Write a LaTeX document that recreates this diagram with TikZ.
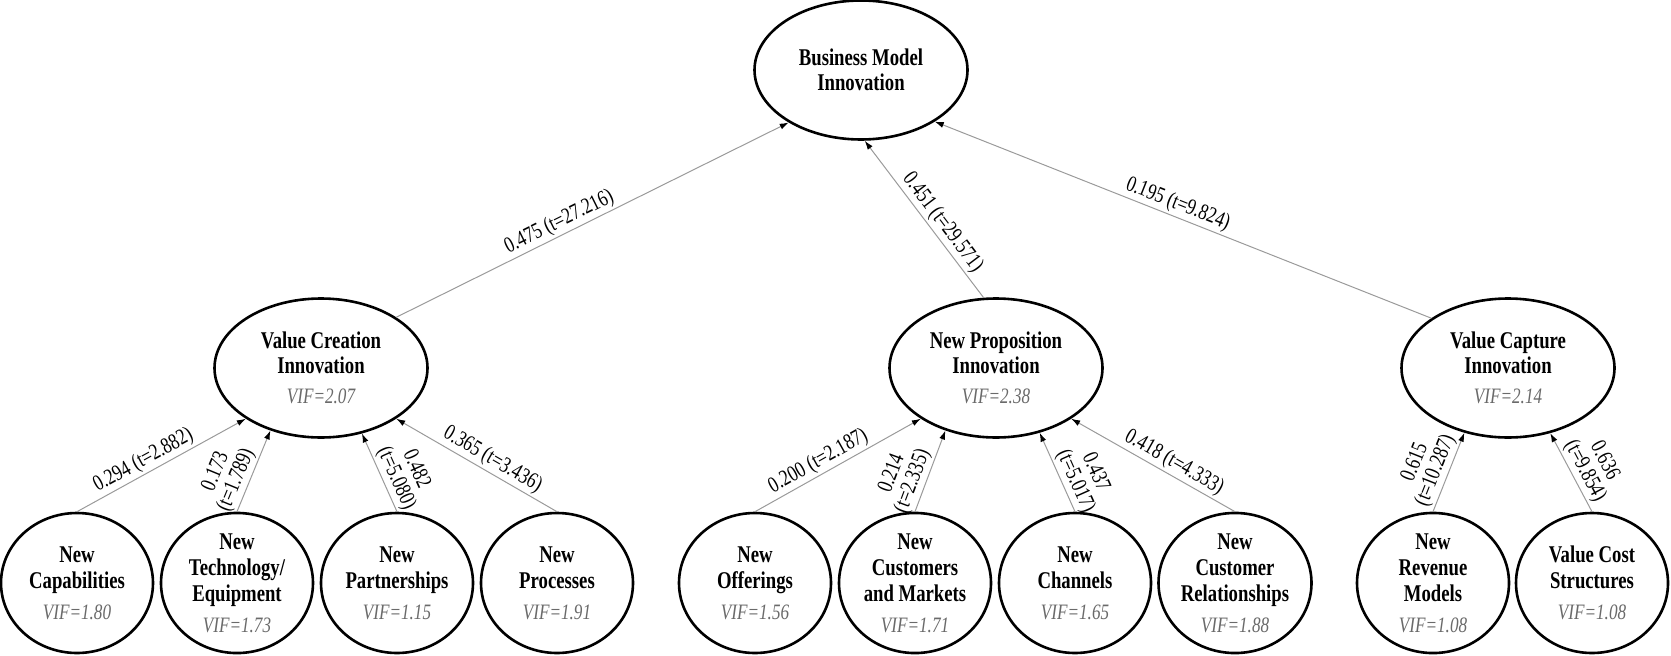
\documentclass[tikz,border=0pt]{standalone}
\usepackage{fontspec}
\setmainfont{Liberation Serif}[FakeStretch=0.78]
\usetikzlibrary{shapes.geometric,arrows.meta}
\definecolor{vifgray}{HTML}{6A6A6A}
\definecolor{linegray}{HTML}{9A9A9A}
\newcommand{\vif}[1]{{\fontsize{22}{22}\selectfont\mdseries\itshape\color{vifgray}VIF=#1}}
\begin{document}
\begin{tikzpicture}[x=1pt,y=-1pt,
  mid/.style={ellipse,draw,line width=2.6pt,minimum width=213pt,minimum height=139pt,inner sep=0pt,align=center,font=\fontsize{24}{25}\selectfont\bfseries},
  leaf/.style={ellipse,draw,line width=2.6pt,minimum width=152pt,minimum height=140pt,inner sep=0pt,align=center,font=\fontsize{24}{26}\selectfont\bfseries},
  conn/.style={draw=linegray,line width=1pt,-{Latex[length=9pt,width=6pt,color=black]}},
  lab/.style={sloped,above,inner sep=2pt,align=center,font=\fontsize{22.5}{22}\selectfont}
]
\useasboundingbox (0,0) rectangle (1671,656);

\node[mid] (bmi) at (861,70) {Business Model\\Innovation};
\node[mid] (vci) at (321,368) {Value Creation\\Innovation\\[5pt]\vif{2.07}};
\node[mid] (npi) at (996,368) {New Proposition\\Innovation\\[5pt]\vif{2.38}};
\node[mid] (vcap) at (1508,368) {Value Capture\\Innovation\\[5pt]\vif{2.14}};

\node[leaf] (cap) at (77,583) {New\\Capabilities\\[5pt]\vif{1.80}};
\node[leaf] (tech) at (237,583) {New\\Technology/\\Equipment\\[5pt]\vif{1.73}};
\node[leaf] (part) at (397,583) {New\\Partnerships\\[5pt]\vif{1.15}};
\node[leaf] (proc) at (557,583) {New\\Processes\\[5pt]\vif{1.91}};
\node[leaf] (off) at (755,583) {New\\Offerings\\[5pt]\vif{1.56}};
\node[leaf] (cust) at (915,583) {New\\Customers\\and Markets\\[5pt]\vif{1.71}};
\node[leaf] (chan) at (1075,583) {New\\Channels\\[5pt]\vif{1.65}};
\node[leaf] (rel) at (1235,583) {New\\Customer\\Relationships\\[5pt]\vif{1.88}};
\node[leaf] (rev) at (1433,583) {New\\Revenue\\Models\\[5pt]\vif{1.08}};
\node[leaf] (cost) at (1592,583) {Value Cost\\Structures\\[5pt]\vif{1.08}};

\draw[conn] (vci.34) -- node[lab,pos=0.43]{0.475 (t=27.216)} (bmi.216);
\draw[conn] (npi.100) -- node[lab,pos=0.43]{0.451 (t=29.571)} (bmi.273);
\draw[conn] (vcap.147) -- node[lab,pos=0.52]{0.195 (t=9.824)} (bmi.325);

\draw[conn] (cap.north) -- node[lab,pos=0.43]{0.294 (t=2.882)} (vci.214);
\draw[conn] (tech.north) -- node[lab,pos=0.33]{0.173\\(t=1.789)} (vci.231);
\draw[conn] (part.north) -- node[lab,pos=0.36]{0.482\\(t=5.080)} (vci.302);
\draw[conn] (proc.north) -- node[lab,pos=0.44]{0.365 (t=3.436)} (vci.326);

\draw[conn] (off.north) -- node[lab,pos=0.42]{0.200 (t=2.187)} (npi.214);
\draw[conn] (cust.north) -- node[lab,pos=0.32]{0.214\\(t=2.335)} (npi.231);
\draw[conn] (chan.north) -- node[lab,pos=0.32]{0.437\\(t=5.017)} (npi.304);
\draw[conn] (rel.north) -- node[lab,pos=0.41]{0.418 (t=4.333)} (npi.326);

\draw[conn] (rev.north) -- node[lab,pos=0.46]{0.615\\(t=10.287)} (vcap.236);
\draw[conn] (cost.north) -- node[lab,pos=0.44]{0.636\\(t=9.854)} (vcap.303);
\end{tikzpicture}
\end{document}
